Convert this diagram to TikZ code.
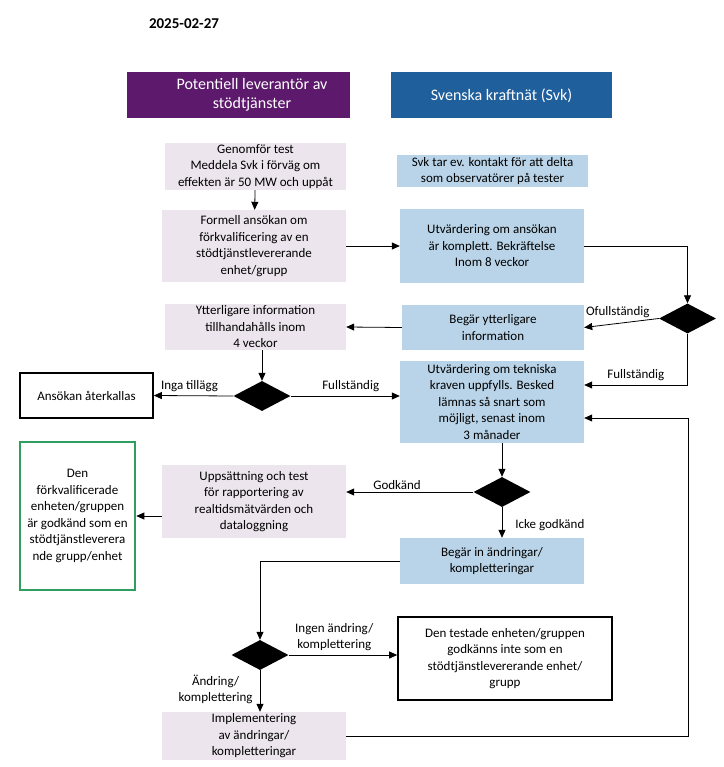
\documentclass[tikz,border=0pt]{standalone}
\usepackage{fontspec}
\setmainfont{Carlito}
\usetikzlibrary{shapes.geometric, arrows.meta}

\definecolor{levpurple}{HTML}{5D1A6C}
\definecolor{svkblue}{HTML}{1F5F9B}
\definecolor{levfill}{HTML}{EDE5EE}
\definecolor{svkfill}{HTML}{B9D4E8}
\definecolor{okgreen}{HTML}{2F9E5E}

\tikzset{
    box/.style={rectangle, align=center, inner sep=0pt, font=\fontsize{13}{16.5}\selectfont},
    levbox/.style={box, fill=levfill},
    svkbox/.style={box, fill=svkfill},
    endbox/.style={box, draw=black, line width=1.6pt},
    headbox/.style={rectangle, inner sep=0pt, minimum height=46pt},
    headtext/.style={align=center, text=white, inner sep=0pt, font=\fontsize{16}{19}\selectfont},
    choice/.style={diamond, aspect=1.9, fill=black, inner sep=0pt, minimum width=57pt, minimum height=30pt},
    arr/.style={-{Triangle[length=8pt,width=7pt]}, line width=0.8pt},
    lbl/.style={inner sep=1pt, align=center, font=\fontsize{13}{16}\selectfont}
}

\begin{document}
\begin{tikzpicture}[x=1pt, y=-1pt]
    \useasboundingbox (0,0) rectangle (723,767);

    \node[font=\bfseries\fontsize{15}{18}\selectfont] (datum) at (184,24) {2025-02-27};

    \node[headbox, fill=levpurple, minimum width=223pt] (levhead) at (238.5,95) {};
    \node[headtext] (levtitle) at (252,95) {Potentiell leverantör av\\stödtjänster};
    \node[headbox, fill=svkblue, minimum width=221pt, headtext] (svkhead) at (501.5,95.5) {Svenska kraftnät (Svk)};

    \node[levbox, minimum width=181pt, minimum height=47pt] (test) at (255.5,166.5)
        {Genomför test\\Meddela Svk i förväg om\\effekten är 50 MW och uppåt};
    \node[svkbox, minimum width=191pt, minimum height=32pt] (observ) at (492.5,171)
        {Svk tar ev. kontakt för att delta\\som observatörer på tester};
    \node[levbox, minimum width=184pt, minimum height=72pt] (ansokan) at (254,246)
        {Formell ansökan om\\förkvalificering av en\\stödtjänstlevererande\\enhet/grupp};
    \node[svkbox, minimum width=184pt, minimum height=74pt] (komplett) at (492,246)
        {Utvärdering om ansökan\\är komplett. Bekräftelse\\Inom 8 veckor};
    \node[choice] (val1) at (687.5,318.5) {};
    \node[svkbox, minimum width=182pt, minimum height=45pt] (begarinfo) at (493,327.5)
        {Begär ytterligare\\information};
    \node[levbox, minimum width=181pt, minimum height=46pt] (merinfo) at (255.5,327)
        {Ytterligare information\\tillhandahålls inom\\4 veckor};
    \node[choice] (val2) at (262,396) {};
    \node[svkbox, minimum width=184pt, minimum height=82pt] (teknik) at (492,402)
        {Utvärdering om tekniska\\kraven uppfylls. Besked\\lämnas så snart som\\möjligt, senast inom\\3 månader};
    \node[endbox, minimum width=133pt, minimum height=45pt] (aterkallas) at (86.5,395.5)
        {Ansökan återkallas};
    \node[endbox, draw=okgreen, line width=2.6pt, minimum width=115pt, minimum height=148pt] (godkand) at (77.5,516)
        {Den\\förkvalificerade\\enheten/gruppen\\är godkänd som en\\stödtjänstleverera\\nde grupp/enhet};
    \node[choice] (val3) at (502,492) {};
    \node[levbox, minimum width=184pt, minimum height=73pt] (realtid) at (254,501.5)
        {Uppsättning och test\\för rapportering av\\realtidsmätvärden och\\dataloggning};
    \node[svkbox, minimum width=184pt, minimum height=46pt] (andringar) at (492,561)
        {Begär in ändringar/\\kompletteringar};
    \node[choice] (val4) at (260,655) {};
    \node[endbox, minimum width=214pt, minimum height=83pt] (ejgodkand) at (505,658.5)
        {Den testade enheten/gruppen\\godkänns inte som en\\stödtjänstlevererande enhet/\\grupp};
    \node[levbox, minimum width=184pt, minimum height=48pt] (implement) at (254,736)
        {Implementering\\av ändringar/\\kompletteringar};
    \coordinate (tillbaka) at (688,418);

    \draw[arr] (test) -- (ansokan);
    \draw[arr] (ansokan) -- (komplett);
    \draw[arr] (komplett.east) -| (val1.north);
    \draw[arr] (val1.west) -- node[lbl, above=4pt, pos=0.55] {Ofullständig} (begarinfo.east);
    \draw[arr] (begarinfo.west) -- (merinfo.east);
    \draw[arr] (merinfo.south -| val2.north) -- (val2.north);
    \draw[arr] (val1.south) |- node[lbl, pos=0.75, above=3pt] {Fullständig} ([yshift=17pt]teknik.east);
    \draw[arr] (val2.west) -- node[lbl, above=3pt, pos=0.55] {Inga tillägg} (aterkallas.east);
    \draw[arr] (val2.east) -- node[lbl, above=3pt, pos=0.55] {Fullständig} (val2.east -| teknik.west);
    \draw[arr] (val3.north |- teknik.south) -- (val3.north);
    \draw[arr] (val3.west) -- node[lbl, above=1pt, pos=0.6] {Godkänd} (val3.west -| realtid.east);
    \draw[arr] (realtid.west |- godkand.east) -- (godkand.east);
    \draw[arr] (val3.south) -- node[lbl, right=12pt, pos=0.6] {Icke godkänd} (val3.south |- andringar.north);
    \draw[arr] (andringar.west) -| (val4.north);
    \draw[arr] (val4.east) -- node[lbl, above=3pt, pos=0.42] {Ingen ändring/\\komplettering} (val4.east -| ejgodkand.west);
    \draw[arr] (val4.south) -- node[lbl, left=6pt, pos=0.45] {Ändring/\\komplettering} (val4.south |- implement.north);
    \draw[arr] (implement.east) -| (tillbaka) -- (tillbaka -| teknik.east);
\end{tikzpicture}
\end{document}
